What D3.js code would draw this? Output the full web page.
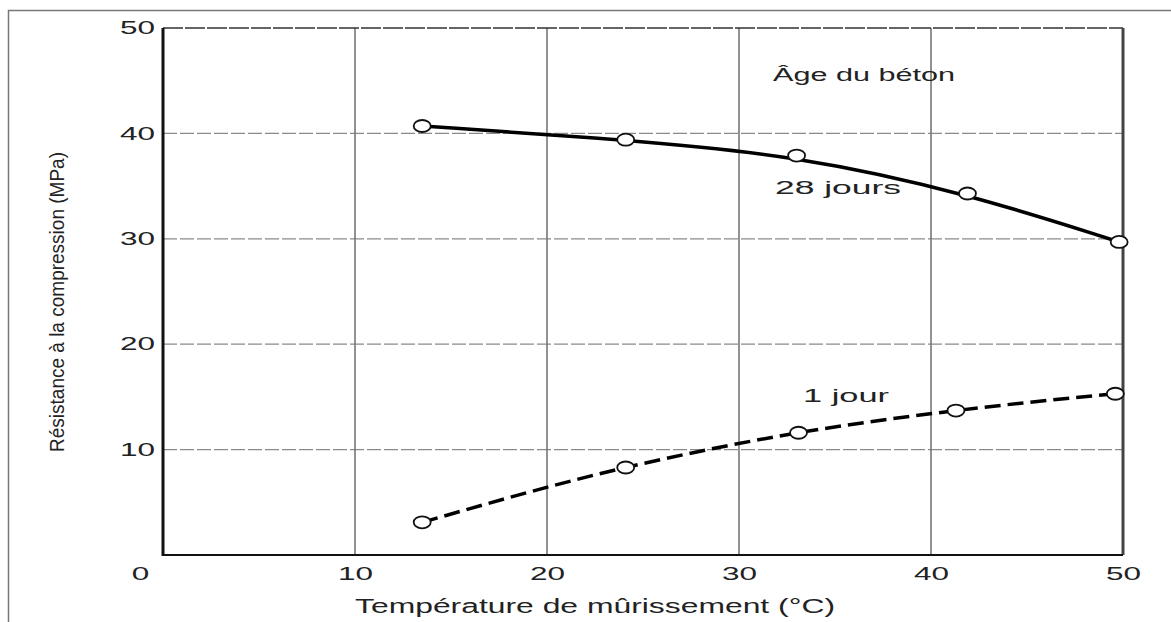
<!DOCTYPE html>
<html>
<head>
<meta charset="utf-8">
<script src="https://cdn.jsdelivr.net/npm/d3@7"></script>
<style>
  html, body { margin: 0; padding: 0; background: #fff; }
  svg { display: block; }
  text { font-family: "Liberation Sans", Arial, sans-serif; fill: #222; }
</style>
</head>
<body>
<svg id="chart" width="1171" height="622"></svg>
<script>
// ---- data ----
const temp28 = [13.5, 24.1, 33.0, 41.9, 49.8];
const res28  = [40.7, 39.4, 37.9, 34.3, 29.7];
const temp1  = [13.5, 24.1, 33.1, 41.3, 49.6];
const res1   = [3.1, 8.3, 11.6, 13.7, 15.3];
const xTicks = [0, 10, 20, 30, 40, 50];
const yTicks = [10, 20, 30, 40, 50];
const xTitle = "Température de mûrissement (°C)";
const yTitle = "Résistance à la compression (MPa)";
const label28 = "28 jours";
const label1 = "1 jour";
const legendTitle = "Âge du béton";

(function () {
const svg = d3.select("#chart");
const W = 1171, H = 622;
const pL = 163, pR = 1123, pT = 28, pB = 555;

const x = d3.scaleLinear().domain([0, 50]).range([pL, pR]);
const y = d3.scaleLinear().domain([0, 50]).range([pB, pT]);

// outer frame
svg.append("path")
  .attr("d", `M8.5,${H} L8.5,10.5 L${W},10.5`)
  .attr("fill", "none").attr("stroke", "#777").attr("stroke-width", 1.5);

// grid lines
const g = svg.append("g");
g.selectAll(".hg").data(yTicks.filter(d => d > 0 && d < 50)).enter().append("line")
  .attr("x1", pL).attr("x2", pR)
  .attr("y1", d => y(d)).attr("y2", d => y(d))
  .attr("stroke", "#8a8a8a").attr("stroke-width", 1.2)
  .attr("stroke-dasharray", "14,3");
g.selectAll(".vg").data(xTicks.filter(d => d > 0 && d < 50)).enter().append("line")
  .attr("y1", pT).attr("y2", pB)
  .attr("x1", d => x(d)).attr("x2", d => x(d))
  .attr("stroke", "#777").attr("stroke-width", 1.6);

// frame top & right
svg.append("line").attr("x1", pL).attr("x2", pR).attr("y1", pT).attr("y2", pT)
  .attr("stroke", "#333").attr("stroke-width", 1.5).attr("stroke-dasharray", "20,2");
svg.append("line").attr("x1", pR).attr("x2", pR).attr("y1", pT).attr("y2", pB)
  .attr("stroke", "#444").attr("stroke-width", 3);
// axes (left / bottom)
svg.append("line").attr("x1", pL).attr("x2", pL).attr("y1", pT).attr("y2", pB + 1)
  .attr("stroke", "#111").attr("stroke-width", 3);
svg.append("line").attr("x1", pL - 1).attr("x2", pR).attr("y1", pB).attr("y2", pB)
  .attr("stroke", "#111").attr("stroke-width", 2);

// tick labels via d3 axes (no lines)
const xAxis = svg.append("g").attr("transform", `translate(0,${pB})`)
  .call(d3.axisBottom(x).tickValues(xTicks).tickSize(0).tickPadding(12).tickFormat(d3.format("d")));
const yAxis = svg.append("g").attr("transform", `translate(${pL},0)`)
  .call(d3.axisLeft(y).tickValues(yTicks).tickSize(0).tickPadding(8).tickFormat(d3.format("d")));
[xAxis, yAxis].forEach(a => {
  a.select(".domain").remove();
  a.attr("font-size", 18).attr("font-family", '"Liberation Sans", Arial, sans-serif');
  a.selectAll("text")
    .attr("font-size", 18)
    .attr("fill", "#333")
    .attr("textLength", d => String(d).length * 17.5)
    .attr("lengthAdjust", "spacingAndGlyphs");
});
xAxis.selectAll("text").filter(d => d === 0).attr("dx", -23);

// axis titles
svg.append("text")
  .attr("transform", `translate(64,302) rotate(-90)`)
  .attr("text-anchor", "middle")
  .attr("textLength", 300).attr("lengthAdjust", "spacingAndGlyphs")
  .style("font-size", "20px").attr("fill", "#333")
  .text(yTitle);
svg.append("text")
  .attr("x", 595).attr("y", 613)
  .attr("text-anchor", "middle")
  .attr("textLength", 480).attr("lengthAdjust", "spacingAndGlyphs")
  .style("font-size", "20px").attr("fill", "#333")
  .text(xTitle);

// lines
const d28 = temp28.map((t, i) => [t, res28[i]]);
const d1 = temp1.map((t, i) => [t, res1[i]]);

svg.append("path").datum(d28)
  .attr("d", d3.line().x(d => x(d[0])).y(d => y(d[1])).curve(d3.curveBasis))
  .attr("fill", "none").attr("stroke", "#000").attr("stroke-width", 3.5);
svg.append("path").datum(d1)
  .attr("d", d3.line().x(d => x(d[0])).y(d => y(d[1])).curve(d3.curveMonotoneX))
  .attr("fill", "none").attr("stroke", "#000").attr("stroke-width", 3.5)
  .attr("stroke-dasharray", "16,7");

// markers
[d28, d1].forEach(ds => {
  svg.append("g").selectAll("ellipse").data(ds).enter().append("ellipse")
    .attr("cx", d => x(d[0])).attr("cy", d => y(d[1]))
    .attr("rx", 8.5).attr("ry", 6)
    .attr("fill", "#fff").attr("stroke", "#111").attr("stroke-width", 1.8);
});

// annotations
svg.append("text").attr("x", 773).attr("y", 81)
  .attr("textLength", 182).attr("lengthAdjust", "spacingAndGlyphs")
  .style("font-size", "18px").attr("fill", "#222").text(legendTitle);
svg.append("text").attr("x", 775).attr("y", 194)
  .attr("textLength", 126).attr("lengthAdjust", "spacingAndGlyphs")
  .style("font-size", "18px").attr("fill", "#222").text(label28);
svg.append("text").attr("x", 803).attr("y", 402)
  .attr("textLength", 86).attr("lengthAdjust", "spacingAndGlyphs")
  .style("font-size", "18px").attr("fill", "#222").text(label1);
})();
</script>
</body>
</html>
